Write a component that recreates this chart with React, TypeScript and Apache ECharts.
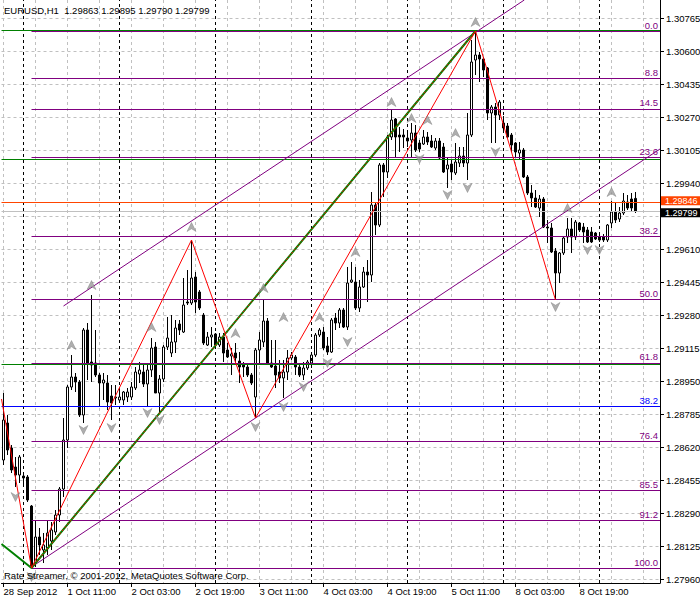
import React, { useEffect, useRef } from "react";
import * as echarts from "echarts";

const TITLE_TEXT = "EURUSD,H1  1.29863 1.29895 1.29790 1.29799";
const COPYRIGHT = "Rate Streamer, © 2001-2012, MetaQuotes Software Corp.";

const OPEN = [
  1.28555, 1.2874, 1.28615, 1.2852, 1.2848, 1.28475, 1.2847, 1.28325, 1.2804, 1.2817,
  1.28105, 1.28115, 1.2815, 1.28195, 1.2828, 1.2841, 1.28655, 1.2892, 1.2897, 1.28945,
  1.2878, 1.29205, 1.29045, 1.2904, 1.2898, 1.2894, 1.2894, 1.28875, 1.28865, 1.28855,
  1.28855, 1.2887, 1.2887, 1.28915, 1.28985, 1.28995, 1.28935, 1.29005, 1.2912, 1.2889,
  1.2896, 1.2912, 1.2909, 1.29145, 1.29235, 1.29195, 1.29345, 1.2934, 1.2947, 1.29395,
  1.2928, 1.2913, 1.2917, 1.29185, 1.2913, 1.2917, 1.29105, 1.29075, 1.2909, 1.2905,
  1.2903, 1.2902, 1.2898, 1.2887, 1.29105, 1.29145, 1.2925, 1.2904, 1.29025, 1.28995,
  1.28965, 1.28995, 1.29065, 1.2907, 1.2902, 1.2898, 1.29015, 1.2904, 1.2908, 1.2918,
  1.29195, 1.29125, 1.29095, 1.29265, 1.2924, 1.29305, 1.2922, 1.29445, 1.29445, 1.29315,
  1.2942, 1.29495, 1.2948, 1.2983, 1.2973, 1.3003, 1.29995, 1.3017, 1.3026, 1.3018,
  1.3018, 1.30165, 1.30155, 1.3019, 1.3014, 1.30135, 1.3017, 1.3015, 1.30115, 1.3015,
  1.3012, 1.3001, 1.30035, 1.2999, 1.3004, 1.30075, 1.3004, 1.3018, 1.30555, 1.3058,
  1.3056, 1.30515, 1.3029, 1.3032, 1.3028, 1.3024, 1.30225, 1.3018, 1.3014, 1.3009,
  1.30105, 1.2997, 1.2989, 1.29865, 1.29815, 1.2986, 1.2972, 1.29715, 1.296, 1.2949,
  1.2959, 1.2967, 1.2971, 1.2967, 1.2974, 1.2972, 1.29705, 1.29695, 1.2969, 1.2967,
  1.2967, 1.29655, 1.2974, 1.29795, 1.2976, 1.2979, 1.29845, 1.2986, 1.29863,
];
const HIGH = [
  1.2889, 1.2878, 1.2863, 1.2857, 1.2858, 1.2849, 1.2848, 1.2833, 1.28255, 1.28215,
  1.2819, 1.28255, 1.28245, 1.28305, 1.2842, 1.28765, 1.2893, 1.2908, 1.2899, 1.28955,
  1.29215, 1.2924, 1.2938, 1.29205, 1.2899, 1.2899, 1.2898, 1.2893, 1.2893, 1.28915,
  1.289, 1.28915, 1.28945, 1.2902, 1.29045, 1.2903, 1.2904, 1.29165, 1.29145, 1.2898,
  1.2913, 1.2927, 1.2928, 1.29255, 1.29255, 1.29465, 1.29505, 1.29655, 1.29495, 1.29405,
  1.2929, 1.29195, 1.2922, 1.2919, 1.2919, 1.2919, 1.2914, 1.29115, 1.2914, 1.29095,
  1.29045, 1.2904, 1.2899, 1.29115, 1.29195, 1.29355, 1.29265, 1.29155, 1.29155, 1.29055,
  1.29055, 1.29105, 1.29095, 1.2908, 1.2904, 1.29045, 1.29055, 1.2909, 1.2919, 1.29215,
  1.2922, 1.2917, 1.29265, 1.2929, 1.29315, 1.29315, 1.2952, 1.29545, 1.2952, 1.29455,
  1.2952, 1.29555, 1.29895, 1.29845, 1.3004, 1.3004, 1.3018, 1.30305, 1.30265, 1.3022,
  1.3021, 1.30205, 1.3024, 1.3023, 1.30155, 1.30205, 1.30195, 1.3018, 1.30165, 1.30165,
  1.3014, 1.3007, 1.30055, 1.3014, 1.3012, 1.3012, 1.3029, 1.30655, 1.307, 1.30595,
  1.3057, 1.3052, 1.3033, 1.3034, 1.30355, 1.30275, 1.3024, 1.3019, 1.30145, 1.30145,
  1.30115, 1.2998, 1.2993, 1.29905, 1.2988, 1.2987, 1.29755, 1.2974, 1.29615, 1.29595,
  1.2967, 1.29765, 1.29765, 1.29755, 1.29745, 1.2974, 1.2972, 1.2972, 1.29695, 1.2969,
  1.29685, 1.29735, 1.2985, 1.29845, 1.2982, 1.2989, 1.2988, 1.2989, 1.29895,
];
const LOW = [
  1.2853, 1.2858, 1.2849, 1.2842, 1.2844, 1.2842, 1.28345, 1.28015, 1.2802, 1.2808,
  1.2804, 1.2808, 1.28105, 1.2818, 1.28245, 1.2837, 1.28615, 1.28905, 1.28895, 1.2877,
  1.2874, 1.28955, 1.28945, 1.2897, 1.2882, 1.28855, 1.28805, 1.28755, 1.2883, 1.28845,
  1.2883, 1.28845, 1.28855, 1.28905, 1.2894, 1.2892, 1.2882, 1.2897, 1.2889, 1.28795,
  1.28945, 1.29105, 1.2907, 1.2909, 1.2918, 1.2919, 1.2933, 1.2933, 1.2929, 1.29305,
  1.2913, 1.29125, 1.2912, 1.2912, 1.2912, 1.29045, 1.29065, 1.2898, 1.2904, 1.2894,
  1.2897, 1.2897, 1.2893, 1.28765, 1.2904, 1.2912, 1.2903, 1.29015, 1.28915, 1.2894,
  1.28865, 1.28955, 1.29055, 1.2898, 1.2897, 1.28955, 1.29005, 1.29015, 1.2907, 1.2917,
  1.29105, 1.2908, 1.2909, 1.29205, 1.29215, 1.29215, 1.29205, 1.2944, 1.29305, 1.29295,
  1.29415, 1.29345, 1.29445, 1.2968, 1.2972, 1.2987, 1.29965, 1.30155, 1.30065, 1.30095,
  1.30115, 1.3012, 1.30065, 1.30095, 1.30095, 1.3013, 1.3013, 1.30115, 1.30105, 1.30055,
  1.2999, 1.29915, 1.29955, 1.2998, 1.3002, 1.3002, 1.29955, 1.3017, 1.3048, 1.30445,
  1.3047, 1.30255, 1.3014, 1.3014, 1.30255, 1.3019, 1.30165, 1.30095, 1.3007, 1.30055,
  1.29965, 1.2988, 1.2982, 1.29815, 1.2977, 1.29715, 1.2964, 1.2959, 1.29355, 1.2944,
  1.2958, 1.2964, 1.2959, 1.29655, 1.29695, 1.2964, 1.2964, 1.2964, 1.29655, 1.29645,
  1.29645, 1.29645, 1.29715, 1.2974, 1.29745, 1.2978, 1.29805, 1.29795, 1.2979,
];
const CLOSE = [
  1.28755, 1.28605, 1.28505, 1.2848, 1.2857, 1.28465, 1.28355, 1.28025, 1.2817, 1.2813,
  1.2813, 1.2819, 1.28205, 1.2828, 1.2841, 1.28655, 1.2892, 1.2897, 1.28945, 1.2878,
  1.29205, 1.2904, 1.2903, 1.2898, 1.2894, 1.28955, 1.28845, 1.2884, 1.2887, 1.2887,
  1.28895, 1.28895, 1.2892, 1.28995, 1.29005, 1.28935, 1.29005, 1.29115, 1.2889, 1.2896,
  1.2912, 1.29165, 1.29145, 1.29215, 1.29205, 1.2933, 1.2934, 1.29465, 1.29345, 1.29315,
  1.2914, 1.2917, 1.2918, 1.2913, 1.2917, 1.2909, 1.2907, 1.29085, 1.29065, 1.2902,
  1.2902, 1.2898, 1.2894, 1.29105, 1.29155, 1.2925, 1.2904, 1.2902, 1.2898, 1.28965,
  1.28995, 1.29065, 1.2908, 1.2902, 1.2898, 1.29015, 1.29045, 1.2908, 1.2918, 1.29205,
  1.29115, 1.29095, 1.29255, 1.2924, 1.29305, 1.2922, 1.2944, 1.29455, 1.29315, 1.2942,
  1.29495, 1.2948, 1.2983, 1.2973, 1.3003, 1.29995, 1.3017, 1.30255, 1.3017, 1.3017,
  1.3017, 1.3015, 1.3019, 1.30105, 1.3011, 1.3017, 1.30145, 1.3012, 1.3015, 1.30065,
  1.29995, 1.3003, 1.29995, 1.30045, 1.30075, 1.3004, 1.3018, 1.30545, 1.3058, 1.3056,
  1.30505, 1.3029, 1.3032, 1.3028, 1.30345, 1.30215, 1.3017, 1.3013, 1.30095, 1.30105,
  1.2997, 1.2989, 1.29865, 1.2982, 1.2986, 1.2972, 1.29715, 1.29595, 1.2949, 1.2959,
  1.29665, 1.2971, 1.2967, 1.29745, 1.29705, 1.29695, 1.29645, 1.29645, 1.2966, 1.29655,
  1.29655, 1.2973, 1.29795, 1.29755, 1.2979, 1.2985, 1.29815, 1.29815, 1.29799,
];

// x axis (bar index) ticks and labels
const TIME_TICK_BARS = [0, 16, 32, 48, 64, 80, 96, 112, 128, 144];
const TIME_TICK_LABELS = [
  "28 Sep 2012", "1 Oct 11:00", "2 Oct 03:00", "2 Oct 19:00", "3 Oct 11:00",
  "4 Oct 03:00", "4 Oct 19:00", "5 Oct 11:00", "8 Oct 03:00", "8 Oct 19:00",
];
const TIME_GRID_BARS = [0, 8, 16, 24, 32, 40, 48, 56, 64, 72, 80, 88, 96, 104, 112, 120, 128, 136, 144, 152, 160];
const DAY_START_BARS = [5, 29, 53, 77, 101, 125, 149];

// price axis
const PRICE_TICKS = [
  1.2796, 1.28125, 1.2829, 1.28455, 1.2862, 1.28785, 1.2895, 1.29115, 1.2928,
  1.29445, 1.2961, 1.29775, 1.2994, 1.30105, 1.3027, 1.30435, 1.306, 1.30765,
];
const PRICE_LABELS = PRICE_TICKS.filter((p) => p !== 1.29775);
const PRICE_MIN = 1.2794;
const PRICE_MAX = 1.30855;
const X_MIN = -0.5;
const X_MAX = 164.125;

// Fibonacci retracement
const FIB_HIGH = 1.307;
const FIB_LOW = 1.28015;
const FIB_START_BAR = 7;
const FIB_LEVELS = [0, 8.8, 14.5, 23.6, 38.2, 50, 61.8, 76.4, 85.5, 91.2, 100];
const GREEN_LEVELS = [1.30705, 1.3006, 1.29035];
const BLUE_LEVEL = 1.28825;
const BLUE_LABEL = "38.2";
const ORANGE_LEVEL = 1.29846;
const BID = 1.29799;

// drawn objects
const ZIGZAG_RED = [[-0.5, 1.2886], [7, 1.28015], [47, 1.29655], [63, 1.28765], [118, 1.307], [138, 1.29355]];
const ZIGZAG_GREEN = [[-0.5, 1.28135], [7, 1.28015], [118, 1.307]];
const TREND_RED = [[7, 1.28015], [118, 1.307]];
const CHANNEL_UPPER = [[15, 1.29325], [130.2, 1.30855]];
const CHANNEL_LOWER = [[7, 1.2802], [164.125, 1.3011]];

const FRACTAL_UP = [
  [17, 1.2913], [22, 1.2943], [37, 1.2922], [47, 1.2972], [58, 1.2919], [65, 1.29415],
  [70, 1.2927], [79, 1.2927], [88, 1.29595], [97, 1.30345], [102, 1.30265], [106, 1.30255],
  [113, 1.3019], [118, 1.30745], [141, 1.29815], [152, 1.29895],
];
const FRACTAL_DOWN = [
  [3, 1.2837], [7, 1.2797], [20, 1.28705], [27, 1.28715], [36, 1.2879], [39, 1.28755],
  [63, 1.2872], [70, 1.2882], [75, 1.2892], [81, 1.2904], [86, 1.29145], [104, 1.3006],
  [111, 1.2988], [116, 1.29915], [123, 1.30095], [138, 1.2932], [146, 1.29605], [149, 1.29605],
];

const FONT = "'Liberation Sans', Arial, sans-serif";
const FS = 9.5;
const PURPLE = "#800080";
const GREEN = "#008000";

export default function App() {
  const ref = useRef<HTMLDivElement>(null);

  useEffect(() => {
    document.body.style.margin = "0";
    if (!ref.current) return;
    const chart = echarts.init(ref.current, null, { renderer: "svg" });

    const candles = OPEN.map((o, i) => [i, o, CLOSE[i], LOW[i], HIGH[i]]);
    const fibRange = FIB_HIGH - FIB_LOW;

    const hSeg = (price: number, x0: number, color: string, label?: string, labelColor?: string) => [
      {
        coord: [x0, price],
        lineStyle: { color, width: 1, type: "solid" },
        label: label
          ? {
              show: true,
              position: "insideEndTop",
              formatter: label,
              color: labelColor || color,
              fontSize: FS,
              fontFamily: FONT,
              distance: [2, 1],
            }
          : { show: false },
      },
      { coord: [X_MAX, price] },
    ];

    const priceBox = (price: number, lineColor: string, boxColor: string, dy: number) => [
      {
        coord: [X_MIN, price],
        lineStyle: { color: lineColor, width: 1, type: "solid" },
        label: {
          show: true,
          position: "end",
          formatter: price.toFixed(5),
          backgroundColor: boxColor,
          color: "#ffffff",
          padding: [0, 4, 0, 4],
          lineHeight: 9,
          distance: 1,
          offset: [0, dy],
          fontSize: 9,
          fontFamily: FONT,
        },
      },
      { coord: [X_MAX, price] },
    ];

    const lineSeries = (data: number[][], color: string, width: number, type: any, z: number) => ({
      type: "line",
      data,
      showSymbol: false,
      symbol: "none",
      silent: true,
      lineStyle: { color, width, type },
      z,
    });

    const option: any = {
      animation: false,
      backgroundColor: "#ffffff",
      textStyle: { fontFamily: FONT },
      grid: { left: 1.5, right: 40, top: 0, bottom: 17, outerBoundsMode: "none", containLabel: false },
      xAxis: [
        {
          type: "value",
          min: X_MIN,
          max: X_MAX,
          position: "bottom",
          axisLine: { show: true, onZero: false, lineStyle: { color: "#000", width: 1 } },
          axisTick: { show: true, customValues: TIME_TICK_BARS, length: 4, inside: false, lineStyle: { color: "#000" } },
          axisLabel: {
            show: true,
            customValues: TIME_TICK_BARS,
            formatter: (v: number) => {
              const k = TIME_TICK_BARS.indexOf(Math.round(v));
              return k >= 0 ? TIME_TICK_LABELS[k] : "";
            },
            align: "left",
            margin: 3,
            color: "#000",
            fontSize: FS,
            fontFamily: FONT,
          },
          splitLine: { show: false },
        },
        {
          type: "value",
          min: X_MIN,
          max: X_MAX,
          position: "top",
          axisLine: { show: false },
          axisTick: { show: false, customValues: TIME_GRID_BARS },
          axisLabel: { show: false },
          splitLine: { show: true, lineStyle: { color: "#c0c0c0", width: 1, type: [3, 3] } },
        },
      ],
      yAxis: {
        type: "value",
        position: "right",
        min: PRICE_MIN,
        max: PRICE_MAX,
        axisLine: { show: true, onZero: false, lineStyle: { color: "#000", width: 1 } },
        axisTick: { show: true, customValues: PRICE_TICKS, length: 4, inside: false, lineStyle: { color: "#000" } },
        axisLabel: {
          show: true,
          customValues: PRICE_LABELS,
          formatter: (v: number) => v.toFixed(5),
          margin: 6,
          color: "#000",
          fontSize: FS,
          fontFamily: FONT,
        },
        splitLine: { show: true, lineStyle: { color: "#c0c0c0", width: 1, type: [3, 3] } },
      },
      graphic: [
        {
          type: "text",
          left: 4,
          top: 5,
          z: 100,
          style: { text: TITLE_TEXT, fill: "#000", fontSize: FS, fontFamily: FONT },
        },
        {
          type: "text",
          left: 4,
          top: 570,
          z: 100,
          style: { text: COPYRIGHT, fill: "#000", fontSize: FS, fontFamily: FONT },
        },
      ],
      series: [
        {
          type: "line",
          data: [],
          silent: true,
          z: 1,
          markLine: {
            silent: true,
            symbol: ["none", "none"],
            label: { show: false },
            lineStyle: { color: "#000", width: 1, type: [3, 3] },
            data: DAY_START_BARS.map((b) => [
              { coord: [b, PRICE_MIN] },
              { coord: [b, PRICE_MAX] },
            ]),
          },
        },
        {
          type: "candlestick",
          data: candles,
          barWidth: 2,
          silent: true,
          z: 3,
          itemStyle: {
            color: "#ffffff",
            color0: "#000000",
            borderColor: "#000000",
            borderColor0: "#000000",
            borderWidth: 1,
          },
        },
        {
          type: "line",
          data: [],
          silent: true,
          z: 4,
          markLine: {
            silent: true,
            symbol: ["none", "none"],
            data: [
              ...GREEN_LEVELS.map((p) => hSeg(p, X_MIN, GREEN)),
              hSeg(BLUE_LEVEL, X_MIN, "#0000ff", BLUE_LABEL, "#0000ff"),
              ...FIB_LEVELS.map((r) =>
                hSeg(FIB_HIGH - (r / 100) * fibRange, FIB_START_BAR, PURPLE, r.toFixed(1), PURPLE)
              ),
            ],
          },
        },
        lineSeries(CHANNEL_UPPER, PURPLE, 1, "solid", 5),
        lineSeries(CHANNEL_LOWER, PURPLE, 1, "solid", 5),
        lineSeries(ZIGZAG_GREEN, GREEN, 2, "solid", 5),
        lineSeries(TREND_RED, "#ff0000", 1, [2, 2], 6),
        lineSeries(ZIGZAG_RED, "#ff0000", 1, "solid", 6),
        {
          type: "scatter",
          data: FRACTAL_UP,
          symbol: "path://M0,10 L5,0 L10,10 L5,7 Z",
          symbolSize: [9, 9],
          silent: true,
          z: 7,
          itemStyle: { color: "#9a9a9a", borderColor: "#7a7a7a", borderWidth: 0.5 },
        },
        {
          type: "scatter",
          data: FRACTAL_DOWN,
          symbol: "path://M0,0 L5,3 L10,0 L5,10 Z",
          symbolSize: [9, 9],
          silent: true,
          z: 7,
          itemStyle: { color: "#9a9a9a", borderColor: "#7a7a7a", borderWidth: 0.5 },
        },
        {
          type: "line",
          data: [],
          silent: true,
          z: 8,
          markLine: {
            silent: true,
            symbol: ["none", "none"],
            data: [
              priceBox(ORANGE_LEVEL, "#ff4500", "#ff4500", -1),
              priceBox(BID, "#c0c0c0", "#000000", 1.5),
            ],
          },
        },
      ],
    };

    chart.setOption(option);
    return () => chart.dispose();
  }, []);

  return <div ref={ref} style={{ width: 700, height: 600 }} />;
}
